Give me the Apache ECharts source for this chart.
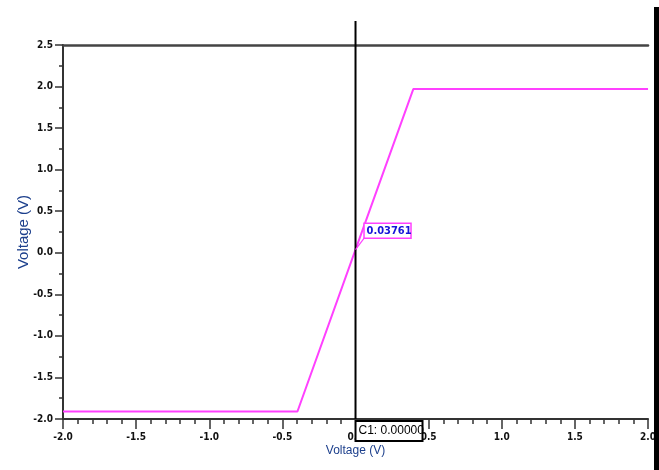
<!DOCTYPE html>
<html><head><meta charset="utf-8">
<script src="https://cdn.jsdelivr.net/npm/echarts@6/dist/echarts.min.js"></script>
<style>html,body{margin:0;padding:0;background:#fff}#c{width:659px;height:470px}</style>
</head><body><div id="c"></div>
<script>
var sweepX = [-2.0, -0.397, 0.0, 0.395, 2.0];
var outputV = [-1.91, -1.91, 0.03761, 1.97, 1.97];
var cursorX = 0.0;
var cursorLabel = 'C1: 0.00000';
var probeValue = 0.03761;
var probeLabel = '0.03761';
var xAxisName = 'Voltage (V)';
var yAxisName = 'Voltage (V)';

var chart = echarts.init(document.getElementById('c'), null, {renderer: 'canvas'});
var tickFont = {fontFamily: '"DejaVu Sans Condensed", "Liberation Sans", sans-serif', fontWeight: 'bold', fontSize: 10, color: '#111'};
var data = sweepX.map(function (x, i) { return [x, outputV[i]]; });

chart.setOption({
  animation: false,
  backgroundColor: '#fff',
  grid: {left: 63, top: 45, right: 7, bottom: 51, containLabel: false},
  xAxis: [{
    type: 'value', min: -2, max: 2, interval: 0.5,
    name: xAxisName, nameLocation: 'middle', nameGap: 26, nameMoveOverlap: false,
    nameTextStyle: {fontFamily: 'Liberation Sans', fontSize: 12, color: '#1c3f8c'},
    axisLine: {show: true, onZero: false, lineStyle: {color: '#333', width: 2}},
    axisTick: {show: true, length: 10, lineStyle: {color: '#333', width: 1.5}},
    minorTick: {show: true, splitNumber: 5, length: 5, lineStyle: {color: '#333', width: 1.5}},
    axisLabel: Object.assign({margin: 13, formatter: function (v) { return v.toFixed(1); }}, tickFont),
    splitLine: {show: false}
  }, {
    type: 'value', min: -2, max: 2, position: 'top',
    axisLine: {show: true, onZero: false, lineStyle: {color: '#444', width: 2.5}},
    axisTick: {show: false}, axisLabel: {show: false}, splitLine: {show: false}
  }],
  yAxis: {
    type: 'value', min: -2, max: 2.5, interval: 0.5,
    name: yAxisName, nameLocation: 'middle', nameGap: 32, nameRotate: 90, nameMoveOverlap: false,
    nameTextStyle: {fontFamily: 'Liberation Sans', fontSize: 15, color: '#1c3f8c'},
    axisLine: {show: true, onZero: false, lineStyle: {color: '#333', width: 2}},
    axisTick: {show: true, length: 8, lineStyle: {color: '#333', width: 1.5}},
    minorTick: {show: true, splitNumber: 2, length: 4, lineStyle: {color: '#333', width: 1.5}},
    axisLabel: Object.assign({margin: 10, formatter: function (v) { return v.toFixed(1); }}, tickFont),
    splitLine: {show: false}
  },
  series: [{
    type: 'line', data: data, xAxisIndex: 0, yAxisIndex: 0,
    symbol: 'none', lineStyle: {color: '#ff40ff', width: 2}, z: 3
  }]
});

var p = chart.convertToPixel({seriesIndex: 0}, [cursorX, probeValue]);
var xb = chart.convertToPixel({xAxisIndex: 0}, cursorX);
var yb = chart.convertToPixel({yAxisIndex: 0}, -2);

chart.setOption({
  graphic: [
    {type: 'rect', shape: {x: 654, y: 7, width: 5, height: 463}, style: {fill: '#000'}, z: 100},
    {type: 'line', shape: {x1: xb, y1: 21, x2: xb, y2: yb}, style: {stroke: '#000', lineWidth: 2}, z: 90},
    {type: 'line', shape: {x1: p[0], y1: p[1], x2: p[0] + 9, y2: p[1] - 12}, style: {stroke: '#ff40ff', lineWidth: 1.2}, z: 95},
    {type: 'rect', shape: {x: p[0] + 8.5, y: p[1] - 26.5, width: 47, height: 15}, style: {fill: '#fff', stroke: '#ff40ff', lineWidth: 1.5}, z: 96},
    {type: 'text', x: p[0] + 11, y: p[1] - 19, style: {text: probeLabel, fill: '#1515d8', font: 'bold 11px "DejaVu Sans Condensed", "DejaVu Sans", sans-serif', verticalAlign: 'middle'}, z: 97},
    {type: 'rect', shape: {x: xb, y: yb + 2, width: 67, height: 20}, style: {fill: '#fff', stroke: '#000', lineWidth: 2}, z: 96},
    {type: 'text', x: xb + 3, y: yb + 12, style: {text: cursorLabel, fill: '#000', font: '12px "Liberation Sans", sans-serif', verticalAlign: 'middle'}, z: 97}
  ]
});
</script></body></html>
